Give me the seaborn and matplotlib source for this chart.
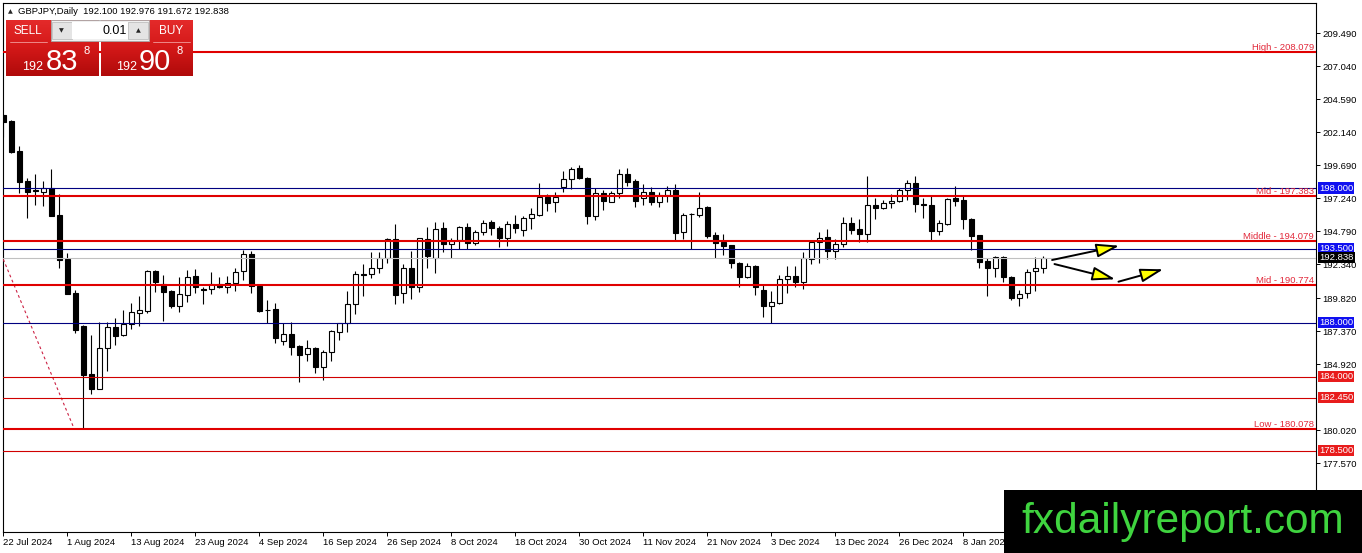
import numpy as np
import pandas as pd
import matplotlib.pyplot as plt
import seaborn as sns
from matplotlib.patches import Rectangle, FancyArrowPatch
from matplotlib.colors import LinearSegmentedColormap

# GBPJPY daily candles, 22 Jul 2024 .. 22 Jan 2025
opens = [203.42, 202.98, 200.75, 198.52, 197.82, 197.69, 197.98, 196.00, 192.73, 190.21,
         187.76, 184.20, 183.11, 186.10, 187.66, 187.09, 187.91, 188.75, 188.90, 191.84,
         190.88, 190.36, 189.27, 190.04, 191.47, 190.48, 190.48, 190.88, 190.63, 190.93,
         191.84, 193.10, 190.73, 188.95, 189.00, 186.67, 187.17, 186.27, 185.66, 186.15,
         184.74, 185.81, 187.34, 187.96, 189.37, 191.60, 191.60, 192.04, 192.79, 194.22,
         190.23, 192.09, 190.63, 194.22, 192.79, 195.01, 193.83, 194.15, 195.09, 193.90,
         194.72, 195.46, 195.01, 194.27, 195.31, 194.89, 195.76, 196.00, 197.31, 196.94,
         198.10, 198.65, 199.47, 198.77, 195.95, 197.61, 196.99, 197.61, 199.04, 198.55,
         197.24, 197.69, 196.99, 197.49, 197.86, 194.76, 196.07, 196.00, 196.62, 194.52,
         194.02, 193.77, 192.46, 191.43, 192.21, 190.43, 189.27, 189.49, 191.23, 191.47,
         190.99, 192.71, 193.97, 194.34, 193.35, 193.85, 195.43, 194.96, 194.57, 196.74,
         196.50, 196.87, 197.06, 197.86, 198.35, 196.82, 196.74, 194.83, 195.33, 197.24,
         197.11, 195.70, 194.52, 192.59, 192.09, 192.90, 191.42, 189.86, 190.19, 191.84,
         192.100]
highs = [203.50, 203.05, 201.12, 198.77, 199.04, 198.52, 199.42, 197.56, 193.18, 190.43,
         187.80, 187.09, 188.08, 188.08, 188.35, 188.95, 189.47, 189.99, 191.92, 191.92,
         191.55, 190.40, 191.37, 191.92, 191.97, 190.68, 191.79, 191.37, 191.47, 192.04,
         193.40, 193.35, 190.80, 189.69, 189.45, 188.01, 188.04, 186.35, 186.72, 186.22,
         185.98, 187.43, 188.00, 190.36, 191.87, 192.34, 193.23, 193.23, 194.27, 195.33,
         192.34, 193.33, 194.32, 195.13, 195.50, 195.50, 194.27, 195.19, 195.39, 194.89,
         195.63, 195.63, 195.21, 195.55, 196.00, 195.95, 196.50, 198.35, 197.54, 197.69,
         199.27, 199.59, 199.71, 198.80, 197.98, 197.86, 197.78, 199.39, 199.47, 198.65,
         198.30, 198.10, 197.73, 198.15, 198.30, 196.17, 196.17, 197.69, 196.67, 194.76,
         194.59, 193.80, 192.50, 192.41, 192.29, 190.88, 190.36, 191.55, 192.21, 192.21,
         193.25, 194.15, 194.76, 194.94, 194.20, 195.87, 195.87, 195.68, 198.89, 197.24,
         197.11, 197.56, 197.98, 198.60, 198.89, 197.24, 197.41, 195.63, 197.24, 198.15,
         197.49, 195.76, 194.55, 192.79, 192.98, 192.98, 191.49, 190.43, 191.99, 192.90,
         192.976]
lows = [201.79, 200.60, 197.66, 195.78, 196.74, 196.67, 195.90, 192.09, 190.11, 187.26,
        180.078, 182.71, 183.05, 184.44, 186.35, 187.02, 187.54, 187.76, 188.72, 190.31,
        188.15, 189.12, 188.82, 189.56, 190.19, 189.39, 190.14, 190.60, 190.19, 190.38,
        191.18, 190.23, 188.82, 187.96, 186.48, 186.35, 185.61, 183.62, 185.16, 184.25,
        183.75, 185.16, 186.72, 187.34, 188.63, 190.01, 191.30, 191.67, 192.41, 189.39,
        189.49, 189.76, 190.31, 192.04, 191.67, 193.23, 192.79, 193.47, 193.47, 193.77,
        194.52, 194.52, 193.60, 193.72, 194.64, 194.46, 194.96, 195.95, 196.32, 196.25,
        197.69, 197.93, 198.67, 195.31, 195.63, 196.37, 196.94, 197.24, 198.15, 196.62,
        196.74, 196.74, 196.57, 196.99, 194.15, 194.22, 193.45, 195.87, 194.27, 192.79,
        193.03, 192.04, 190.63, 191.30, 190.06, 188.41, 187.96, 189.39, 190.23, 190.63,
        190.51, 192.36, 192.46, 192.71, 192.71, 193.60, 194.59, 193.97, 193.97, 195.68,
        196.42, 196.50, 196.99, 197.11, 196.25, 195.76, 194.09, 194.52, 195.26, 196.67,
        194.94, 193.40, 192.09, 190.01, 191.42, 191.00, 189.69, 189.27, 189.82, 190.36,
        191.672]
closes = [202.90, 200.68, 198.47, 197.73, 197.78, 197.98, 195.95, 192.66, 190.14, 187.46,
          184.12, 183.11, 186.10, 187.66, 187.04, 187.91, 188.80, 188.95, 191.84, 191.05,
          190.31, 189.27, 190.11, 191.42, 190.68, 190.46, 190.85, 190.63, 190.93, 191.79,
          193.08, 190.73, 188.87, 188.93, 186.85, 187.14, 186.22, 185.61, 186.10, 184.74,
          185.81, 187.39, 187.96, 189.37, 191.60, 191.58, 192.04, 192.79, 194.22, 190.06,
          192.09, 190.63, 194.27, 192.96, 194.99, 193.83, 194.07, 195.09, 193.90, 194.76,
          195.43, 195.01, 194.27, 195.31, 195.06, 195.76, 196.05, 197.36, 196.91, 197.36,
          198.65, 199.42, 198.73, 195.95, 197.61, 197.04, 197.61, 199.04, 198.47, 197.06,
          197.69, 196.99, 197.49, 197.86, 194.69, 196.00, 196.05, 196.50, 194.44, 193.90,
          193.70, 192.41, 191.43, 192.21, 190.63, 189.27, 189.52, 191.25, 191.47, 191.05,
          192.79, 193.97, 194.27, 193.35, 193.85, 195.43, 194.89, 194.57, 196.74, 196.50,
          196.87, 197.04, 197.86, 198.35, 196.80, 196.72, 194.83, 195.38, 197.17, 197.06,
          195.68, 194.46, 192.49, 192.04, 192.90, 191.42, 189.86, 190.11, 191.75, 192.09,
          192.838]

date_labels = ['22 Jul 2024', '1 Aug 2024', '13 Aug 2024', '23 Aug 2024', '4 Sep 2024',
               '16 Sep 2024', '26 Sep 2024', '8 Oct 2024', '18 Oct 2024', '30 Oct 2024',
               '11 Nov 2024', '21 Nov 2024', '3 Dec 2024', '13 Dec 2024', '26 Dec 2024',
               '8 Jan 2025']
ytick_values = [209.490, 207.040, 204.590, 202.140, 199.690, 197.240, 194.790, 192.340,
                189.820, 187.370, 184.920, 180.020, 177.570]

level_names = ['High', 'Mid', 'Middle', 'Mid', 'Low']
level_prices = [208.079, 197.383, 194.079, 190.774, 180.078]
blue_levels = [198.000, 193.500, 188.000]
red_levels = [184.000, 182.450, 178.500]
bid_price = 192.838

trend_x = [-1, 8.84]
trend_y = [194.13, 180.16]

arrow_tail_x = [131.1, 131.4, 139.4]
arrow_tail_y = [192.66, 192.36, 191.05]
arrow_head_x = [139.5, 139.0, 145.0]
arrow_head_y = [193.72, 191.23, 191.97]

df = pd.DataFrame({'open': opens, 'high': highs, 'low': lows, 'close': closes})
df['bull'] = df['close'] >= df['open']

sns.set_theme(style='white')
plt.rcParams['font.family'] = ['Liberation Sans', 'DejaVu Sans']

W, H = 1362, 553
fig = plt.figure(figsize=(W / 100, H / 100), dpi=100)
fig.patch.set_facecolor('white')
ax = fig.add_axes([2.7 / W, (H - 532.3) / H, (1316 - 2.7) / W, (532.3 - 2.7) / H])
ax.set_facecolor('white')

# candles
ax.vlines(df.index, df['low'], df['high'], color='black', lw=0.8, zorder=2)
body = (df['close'] - df['open']).abs().clip(lower=0.015)
ax.bar(df.index, body, bottom=df[['open', 'close']].min(axis=1), width=0.62,
       color=np.where(df['bull'], 'white', 'black'), edgecolor='black',
       linewidth=0.8, zorder=2.5)

# trendline
sns.lineplot(x=trend_x, y=trend_y, ax=ax, color='#cc2244', lw=0.8,
             linestyle=(0, (2.5, 2.5)), zorder=3)

# level lines
for name, p in zip(level_names, level_prices):
    ax.axhline(p, color='#e00000', lw=1.5, zorder=3)
    ax.text(0.9985, p + 0.02, f'{name} - {p:.3f}', transform=ax.get_yaxis_transform(),
            ha='right', va='bottom', fontsize=6.8, color='#e2283a', zorder=4)
for p in blue_levels:
    ax.axhline(p, color='#000080', lw=0.8, zorder=3)
for p in red_levels:
    ax.axhline(p, color='#d00000', lw=0.8, zorder=3)
ax.axhline(bid_price, color='#c0c0c0', lw=0.8, zorder=2.8)

# price boxes on the right scale
xoff = 1 + 3.0 / (1316 - 2.7)
boxes = [(p, '#1010f0') for p in blue_levels] + [(p, '#e81c1c') for p in red_levels] + [(bid_price, 'black')]
for p, c in boxes:
    ax.text(xoff, p, f'{p:.3f}', transform=ax.get_yaxis_transform(), ha='left',
            va='center', fontsize=6.8, color='white', clip_on=False, zorder=6,
            bbox=dict(boxstyle='square,pad=0.12', fc=c, ec='none'))

# arrows
for x0, y0, x1, y1 in zip(arrow_tail_x, arrow_tail_y, arrow_head_x, arrow_head_y):
    ax.add_patch(FancyArrowPatch((x0, y0), (x1, y1),
                                 arrowstyle='-|>,head_length=1.4,head_width=0.42',
                                 mutation_scale=10, fc='#ffff00', ec='black', lw=1.4,
                                 shrinkA=0, shrinkB=0, zorder=5))

ax.set_xlim(-0.075, 164.09)
ax.set_ylim(172.445, 211.762)
ax.yaxis.tick_right()
ax.set_yticks(ytick_values, [f'{v:.3f}' for v in ytick_values])
ax.set_xticks(range(0, 8 * len(date_labels), 8), date_labels)
for lbl in ax.get_xticklabels():
    lbl.set_ha('left')
ax.tick_params(axis='y', direction='out', length=3, width=0.7, pad=1.5,
               labelsize=6.8, colors='black', right=True, left=False)
ax.tick_params(axis='x', direction='out', length=3, width=0.7, pad=1.0,
               labelsize=6.8, colors='black', bottom=True)
for s in ax.spines.values():
    s.set_color('black')
    s.set_linewidth(0.8)
ax.grid(False)

# overlay: header, trade panel, watermark
ov = fig.add_axes([0, 0, 1, 1], zorder=10)
ov.patch.set_alpha(0)
ov.axis('off')

ov.text(10.3, 11.5, '\u25b2', fontsize=4.5, ha='center', va='center', family='DejaVu Sans')
ov.text(18, 13.5, 'GBPJPY,Daily  192.100 192.976 191.672 192.838', fontsize=6.8,
        ha='left', va='baseline', color='black')

red_cmap = LinearSegmentedColormap.from_list('mt4red', ['#e42a2a', '#d31818', '#b00a0a'])
grad = np.linspace(0, 1, 64).reshape(-1, 1)
for x0, x1 in [(6, 98.7), (101, 192.7)]:
    ov.imshow(grad, cmap=red_cmap, extent=(x0, x1, 75.7, 20), origin='upper',
              aspect='auto', zorder=1, interpolation='bilinear')
ov.add_patch(Rectangle((50.7, 20), 98.3, 20.7, fc='#f0f0f0', ec='#a8a8a8', lw=0.6, zorder=2))
ov.add_patch(Rectangle((52, 21.5), 19.5, 17.5, fc='#e4e4e4', ec='#b8b8b8', lw=0.5, zorder=3))
ov.add_patch(Rectangle((72, 21.5), 55.5, 17.5, fc='white', ec='none', zorder=3))
ov.add_patch(Rectangle((128, 21.5), 19.5, 17.5, fc='#e4e4e4', ec='#b8b8b8', lw=0.5, zorder=3))
ov.text(61.5, 30.5, '\u25bc', fontsize=4.5, ha='center', va='center', family='DejaVu Sans', zorder=4)
ov.text(138.5, 30.5, '\u25b2', fontsize=4.5, ha='center', va='center', family='DejaVu Sans', zorder=4)
ov.text(126.5, 31, '0.01', fontsize=9, ha='right', va='center', color='black', zorder=4)
ov.text(27.5, 31, 'SELL', fontsize=8.5, ha='center', va='center', color='white', zorder=4)
ov.text(171, 31, 'BUY', fontsize=8.5, ha='center', va='center', color='white', zorder=4)
ov.plot([10, 47], [41.5, 41.5], color='#f29a9a', lw=0.6, zorder=4)
ov.plot([152.7, 190], [41.5, 41.5], color='#f29a9a', lw=0.6, zorder=4)
for xs, big in [(22.5, '83'), (116, '90')]:
    ov.text(xs, 70, '192', fontsize=9, ha='left', va='baseline', color='white', zorder=4)
    ov.text(xs + 23, 70, big, fontsize=21, ha='left', va='baseline', color='white', zorder=4)
    ov.text(xs + 60.5, 45.5, '8', fontsize=8, ha='left', va='top', color='white', zorder=4)

ov.add_patch(Rectangle((1004.3, 490), W - 1004.3, H - 490, fc='black', ec='none', zorder=5))
ov.text(1021.7, 533.3, 'fxdailyreport.com', fontsize=30.5, ha='left', va='baseline',
        color='#3fd43f', zorder=6)

ov.set_xlim(0, W)
ov.set_ylim(H, 0)

fig.savefig('out.png', dpi=100)
